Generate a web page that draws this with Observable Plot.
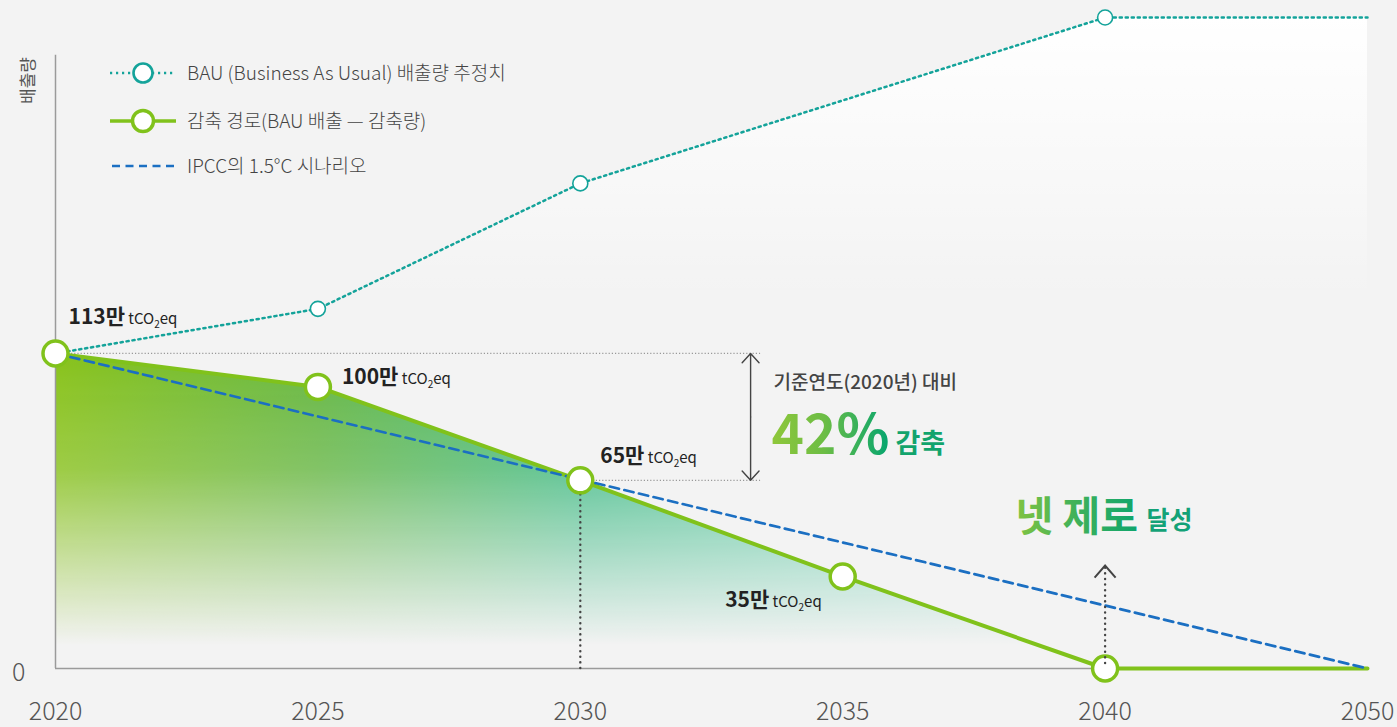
<!DOCTYPE html>
<html>
<head>
<meta charset="utf-8">
<script src="https://cdn.jsdelivr.net/npm/d3@7"></script>
<script src="https://cdn.jsdelivr.net/npm/@observablehq/plot@0.6"></script>
<style>
html, body { margin: 0; padding: 0; background: #f3f3f3; }
#chart svg { display: block; }
#chart svg [aria-label="x-axis tick label"] text,
#chart svg [aria-label="y-axis tick label"] text { fill: #555; font-weight: 300; }
</style>
</head>
<body>
<div id="chart"></div>
<script>
// ---------------- data ----------------
const years = ["2020", "2025", "2030", "2035", "2040", "2050"];   // equally spaced categories on x
const bauYearIdx = [0, 1, 2, 4, 5];
const bauValues = [113, 129, 174, 233.5, 233.5];
const bauHasMarker = [true, true, true, true, false];
const pathValues = [113, 101, 67.5, 33, 0, 0];                    // 감축 경로
const pathLabels = ["113만", "100만", "65만", "35만"];
const unitParts = ["tCO", "2", "eq"];
const ipccYearIdx = [0, 5];
const ipccValues = [113, 0];
const yTicks = [0];
const yLabel = "배출량";
const legendLabels = [
  "BAU (Business As Usual) 배출량 추정치",
  "감축 경로(BAU 배출 — 감축량)",
  "IPCC의 1.5°C 시나리오"
];
const annoBase = "기준연도(2020년) 대비";
const annoPct = "42%";
const annoCut = "감축";
const annoNet = "넷 제로";
const annoDone = "달성";

// ---------------- tables ----------------
const bau = bauYearIdx.map((i, k) => ({i, v: bauValues[k], m: bauHasMarker[k]}));
const path = pathValues.map((v, i) => ({i, v}));
const ipcc = ipccYearIdx.map((i, k) => ({i, v: ipccValues[k]}));
const labeled = pathLabels.map((t, i) => ({i, v: pathValues[i], t}));

// layout constants (annotation placement)
const arrowX = 2.649, refEnd = 2.687, axisTop = 220;
const netZeroIdx = 4, netZeroTip = 36.9;
const labelDx = [13, 24, 20, -21];
const labelDy = [-34, -8, -22, 26];
const labelAnchor = ["start", "start", "start", "end"];

const GREEN = "#80c21b", TEAL = "#14a39a", BLUE = "#1b6fc2";
const FONT = "'Noto Sans CJK KR', 'Noto Sans', sans-serif";

const chevron = {draw(ctx) { ctx.moveTo(-10.5, 12); ctx.lineTo(0, 0); ctx.lineTo(10.5, 12); }};

const labelMarks = labeled.map((d, k) => Plot.text([d], {
  x: "i", y: "v", text: d => d.t + " " + unitParts.join(""),
  dx: labelDx[k], dy: labelDy[k], textAnchor: labelAnchor[k],
  fill: "#222", fontSize: 15
}));

const frameText = (s, dx, dy, o) => Plot.text([s], {
  frameAnchor: "top-left", dx, dy, text: d => d, textAnchor: "start", lineAnchor: "middle", ...o
});

const chart = Plot.plot({
  width: 1397,
  height: 727,
  marginLeft: 55,
  marginRight: 30,
  marginTop: 17,
  marginBottom: 59,
  style: {background: "#f3f3f3", fontFamily: FONT, overflow: "visible"},
  x: {domain: [0, 5], label: null},
  y: {domain: [0, 233.5], label: null},
  marks: [
    // white glow under BAU
    Plot.areaY(bau, {x: "i", y: "v", fill: "url(#bauFade)"}),
    // reduction area
    Plot.areaY(path.slice(0, 5), {x: "i", y: "v", fill: "url(#pathH)"}),
    // axes lines
    Plot.ruleX([0], {y1: 0, y2: axisTop, stroke: "#9a9a9a", strokeWidth: 1.5}),
    Plot.ruleY([0], {x1: 0, x2: 5, stroke: "#9a9a9a", strokeWidth: 1.5}),
    Plot.axisX({ticks: d3.range(years.length), tickFormat: i => years[i], tickSize: 0, tickPadding: 34, fontSize: 25}),
    Plot.axisY({ticks: yTicks, tickSize: 0, tickPadding: 30, fontSize: 25, dy: 4}),
    frameText(yLabel, -27, 63, {rotate: -90, textAnchor: "middle", fontSize: 17, fill: "#555"}),
    // reference dotted lines
    Plot.ruleY([pathValues[0]], {x1: 0, x2: refEnd, stroke: "#999", strokeWidth: 1.2, strokeDasharray: "1.2 2"}),
    Plot.ruleY([pathValues[2]], {x1: 2, x2: refEnd, stroke: "#999", strokeWidth: 1.2, strokeDasharray: "1.2 2"}),
    Plot.ruleX([2], {y1: 0, y2: pathValues[2], stroke: "#444", strokeWidth: 2.4, strokeDasharray: "0.1 5.5", strokeLinecap: "round"}),
    // double arrow
    Plot.arrow([
      {y1: (pathValues[0] + pathValues[2]) / 2, y2: pathValues[0]},
      {y1: (pathValues[0] + pathValues[2]) / 2, y2: pathValues[2]}
    ], {x1: () => arrowX, x2: () => arrowX, y1: "y1", y2: "y2", stroke: "#444", strokeWidth: 1.4, headLength: 13.5, headAngle: 84}),
    // lines
    Plot.line(path, {x: "i", y: "v", stroke: GREEN, strokeWidth: 4}),
    Plot.line(ipcc, {x: "i", y: "v", stroke: BLUE, strokeWidth: 2.7, strokeDasharray: "9.5 5.5"}),
    Plot.line(bau, {x: "i", y: "v", stroke: TEAL, strokeWidth: 2.5, strokeDasharray: "2.2 3.8"}),
    Plot.dot(bau.filter(d => d.m), {x: "i", y: "v", r: 7.5, fill: "white", stroke: TEAL, strokeWidth: 1.6}),
    Plot.dot(path.slice(0, 5), {x: "i", y: "v", r: 12.5, fill: "white", stroke: GREEN, strokeWidth: 3.5}),
    // net zero dotted arrow at 2040
    Plot.ruleX([netZeroIdx], {y1: 1.8, y2: netZeroTip - 0.6, stroke: "#444", strokeWidth: 2.4, strokeDasharray: "0.1 5.5", strokeLinecap: "round"}),
    Plot.dot([netZeroIdx], {x: d => d, y: () => netZeroTip, symbol: chevron, fill: "none", stroke: "#444", strokeWidth: 2}),
    // point labels
    ...labelMarks,
    // annotations
    frameText(annoBase, 718, 365, {fontSize: 19, fontWeight: 500, fill: "#444"}),
    frameText(annoPct, 716, 419, {fontSize: 55, fontWeight: 700, fill: "url(#pctGrad)"}),
    frameText(annoCut, 840, 427, {fontSize: 27, fontWeight: 700, fill: "#12a46c"}),
    frameText(annoNet, 960, 500, {fontSize: 41, fontWeight: 700, fill: "url(#netGrad)"}),
    frameText(annoDone, 1091, 503, {fontSize: 25, fontWeight: 700, fill: "#13a277"})
  ]
});

document.getElementById("chart").append(chart);
const svg = d3.select(chart);

// gradients
const defs = svg.insert("defs", ":first-child");
const bauFade = defs.append("linearGradient").attr("id", "bauFade").attr("gradientUnits", "userSpaceOnUse")
  .attr("x1", 0).attr("y1", 17).attr("x2", 0).attr("y2", 300);
bauFade.append("stop").attr("offset", 0).attr("stop-color", "#fff").attr("stop-opacity", 1);
bauFade.append("stop").attr("offset", 1).attr("stop-color", "#fff").attr("stop-opacity", 0);

const pathH = defs.append("linearGradient").attr("id", "pathH").attr("gradientUnits", "userSpaceOnUse")
  .attr("x1", 55).attr("y1", 0).attr("x2", 1105).attr("y2", 0);
[[0, "#88c21a"], [0.25, "#66b743"], [0.5, "#40bb85"], [0.75, "#5ccaa6"], [1, "#85d6c0"]]
  .forEach(([o, c]) => pathH.append("stop").attr("offset", o).attr("stop-color", c));

const vFade = defs.append("linearGradient").attr("id", "vFade").attr("gradientUnits", "userSpaceOnUse")
  .attr("x1", 0).attr("y1", 353).attr("x2", 0).attr("y2", 645);
[[0, "#fff"], [0.4, "#ccc"], [0.75, "#555"], [1, "#000"]]
  .forEach(([o, c]) => vFade.append("stop").attr("offset", o).attr("stop-color", c));
const mask = defs.append("mask").attr("id", "fadeMask").attr("maskUnits", "userSpaceOnUse")
  .attr("x", 0).attr("y", 0).attr("width", 1397).attr("height", 727);
mask.append("rect").attr("x", 0).attr("y", 0).attr("width", 1397).attr("height", 727).attr("fill", "url(#vFade)");
svg.selectAll('[fill="url(#pathH)"]').attr("mask", "url(#fadeMask)");

// text gradients relative to each text's own bounding box
const pctGrad = defs.append("linearGradient").attr("id", "pctGrad")
  .attr("x1", 0).attr("y1", 0).attr("x2", 1).attr("y2", 0);
[[0, "#8fc73a"], [0.45, "#6cbd45"], [1, "#05a56f"]]
  .forEach(([o, c]) => pctGrad.append("stop").attr("offset", o).attr("stop-color", c));
const netGrad = defs.append("linearGradient").attr("id", "netGrad")
  .attr("x1", 0).attr("y1", 0).attr("x2", 1).attr("y2", 0);
[[0, "#80c341"], [0.5, "#3fb15a"], [1, "#0fa56d"]]
  .forEach(([o, c]) => netGrad.append("stop").attr("offset", o).attr("stop-color", c));

// rich point labels (bold number + unit with subscript)
const unitFull = " " + unitParts.join("");
svg.selectAll("text").each(function () {
  const t = this.textContent;
  if (!t.endsWith(unitFull) || this.querySelector("tspan")) return;
  const num = t.slice(0, t.length - unitFull.length);
  const el = d3.select(this);
  el.text(null);
  el.append("tspan").attr("font-size", 21).attr("font-weight", 700).text(num);
  el.append("tspan").attr("font-size", 15).text(" " + unitParts[0]);
  el.append("tspan").attr("font-size", 10).attr("dy", 4).text(unitParts[1]);
  el.append("tspan").attr("font-size", 15).attr("dy", -4).text(unitParts[2]);
});

// legend
const lg = svg.append("g").attr("font-family", FONT).attr("text-anchor", "start");
const legendY = [73, 121, 166];
const sym = [
  {stroke: TEAL, w: 2.5, dash: "2.2 3.8", r: 9.5, cw: 2.6},
  {stroke: GREEN, w: 3.5, dash: null, r: 10.5, cw: 3.5},
  {stroke: BLUE, w: 2.7, dash: "8 5.5", r: 0, cw: 0}
];
legendLabels.forEach((label, k) => {
  const y = legendY[k], s = sym[k];
  lg.append("line").attr("x1", k === 2 ? 112 : 110).attr("x2", 176).attr("y1", y).attr("y2", y)
    .attr("stroke", s.stroke).attr("stroke-width", s.w).attr("stroke-dasharray", s.dash);
  if (s.r) lg.append("circle").attr("cx", 143).attr("cy", y).attr("r", s.r)
    .attr("fill", "white").attr("stroke", s.stroke).attr("stroke-width", s.cw);
  lg.append("text").attr("x", 187).attr("y", y).attr("dy", "0.35em").attr("font-size", 19)
    .attr("font-weight", 300).attr("fill", "#444").text(label);
});
</script>
</body>
</html>
